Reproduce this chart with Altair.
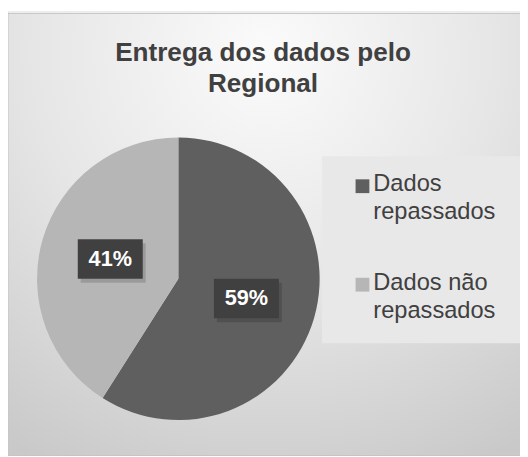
import altair as alt
import pandas as pd

categories = ["Dados repassados", "Dados não repassados"]
values = [59, 41]
title_lines = ["Entrega dos dados pelo", "Regional"]
slice_colors = ["#5f5f5f", "#b6b6b6"]

W, H = 520, 449
CX, CY, R = 173, 271.5, 143.5
LR = 72

df = pd.DataFrame({"category": categories, "value": values, "idx": list(range(len(values)))})
one = pd.DataFrame({"k": [0]})

bg = alt.Chart(one).mark_rect(
    color=alt.Gradient(
        gradient="radial",
        stops=[
            alt.GradientStop(color="#fbfbfb", offset=0),
            alt.GradientStop(color="#e6e6e6", offset=0.5),
            alt.GradientStop(color="#c9c9c9", offset=1),
        ],
        x1=0.5, y1=0.15, r1=0, x2=0.5, y2=0.15, r2=0.9,
    ),
    stroke="#c4c4c4", strokeWidth=1,
).encode(x=alt.value(0), x2=alt.value(W + 2), y=alt.value(2), y2=alt.value(H + 2))

legbox = alt.Chart(one).mark_rect(color="#e8e8e8").encode(
    x=alt.value(319), x2=alt.value(W + 2), y=alt.value(147), y2=alt.value(337)
)

title = alt.Chart(one).mark_text(
    text=title_lines, font="Liberation Sans", fontSize=26.5, fontWeight="bold",
    color="#404040", align="center", baseline="alphabetic", lineHeight=31,
).encode(x=alt.value(259), y=alt.value(50.5))

pie = alt.Chart(df).mark_arc(radius=R).encode(
    theta=alt.Theta("value:Q", stack=True),
    color=alt.Color("category:N", scale=alt.Scale(domain=categories, range=slice_colors), legend=None),
    order=alt.Order("idx:Q"),
    x=alt.value(CX), y=alt.value(CY),
)

lab = alt.Chart(df).transform_joinaggregate(total="sum(value)").transform_window(
    cum="sum(value)", sort=[alt.SortField("idx")]
).transform_calculate(
    mid="(datum.cum - datum.value/2)/datum.total*2*PI",
    px=f"{CX} + {LR}*sin(datum.mid)",
    py=f"{CY} - {LR}*cos(datum.mid)",
    txt="datum.value + '%'",
)

box_shape = "M-1,-0.606H1V0.606H-1Z"
shadow = lab.mark_point(shape=box_shape, size=4356, filled=True, color="#000000", opacity=0.15, xOffset=3, yOffset=4).encode(
    x=alt.X("px:Q", scale=None), y=alt.Y("py:Q", scale=None)
)
box = lab.mark_point(shape=box_shape, size=4356, filled=True, color="#404040", opacity=1).encode(
    x=alt.X("px:Q", scale=None), y=alt.Y("py:Q", scale=None)
)
txt = lab.mark_text(font="Liberation Sans", fontSize=22, fontWeight="bold", color="#ffffff",
                    align="center", baseline="middle").encode(
    x=alt.X("px:Q", scale=None), y=alt.Y("py:Q", scale=None), text="txt:N"
)

legy = alt.Y("category:N", scale=alt.Scale(domain=categories, range=[177.5, 277.5], padding=0), axis=None)
leg_sq = alt.Chart(df).mark_square(size=196, opacity=1).encode(
    x=alt.value(360), y=legy,
    color=alt.Color("category:N", scale=alt.Scale(domain=categories, range=slice_colors), legend=None),
)
leg_txt = alt.Chart(df).transform_calculate(
    lines="[slice(datum.category, 0, lastindexof(datum.category, ' ')), slice(datum.category, lastindexof(datum.category, ' ') + 1)]"
).mark_text(font="Liberation Sans", fontSize=24, color="#404040", align="left",
            baseline="alphabetic", lineHeight=28.6, dy=5.2).encode(
    x=alt.value(371), y=legy, text="lines:N"
)

chart = alt.layer(bg, legbox, title, pie, shadow, box, txt, leg_sq, leg_txt).resolve_scale(
    x="independent", y="independent"
).properties(
    width=W, height=H, padding=0, autosize=alt.AutoSizeParams(type="none")
).configure_view(stroke=None).configure(background="#ffffff")

chart.save("out.html", embed_options={"renderer": "svg", "actions": False})
